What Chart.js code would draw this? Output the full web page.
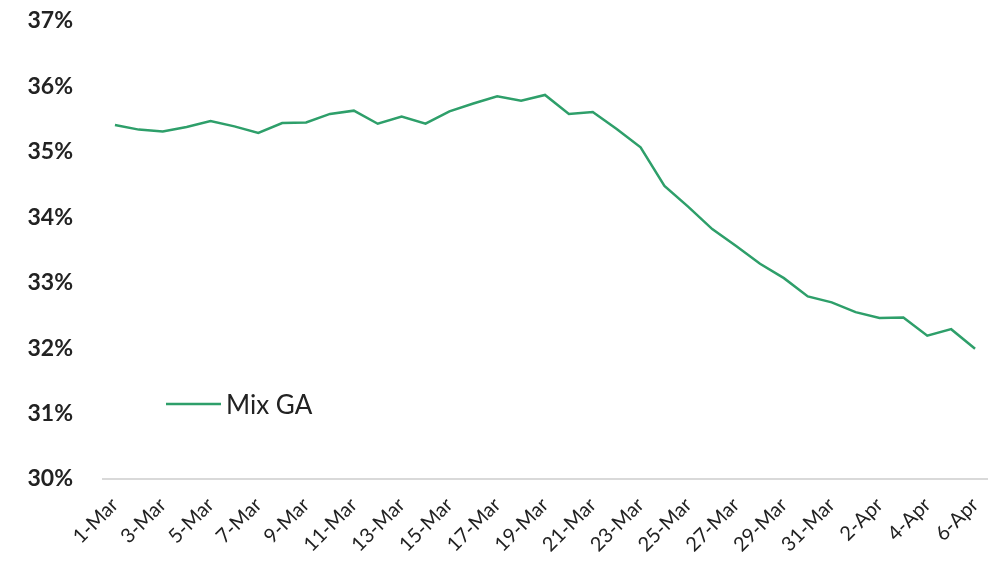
<!DOCTYPE html>
<html>
<head>
<meta charset="utf-8">
<script src="https://cdn.jsdelivr.net/npm/chart.js@4"></script>
<style>
html,body{margin:0;padding:0;background:#fff;}
#wrap{width:997px;height:565px;}
</style>
</head>
<body>
<div id="wrap"><canvas id="c" width="997" height="565"></canvas></div>
<script>
const categories = ["1-Mar","2-Mar","3-Mar","4-Mar","5-Mar","6-Mar","7-Mar","8-Mar","9-Mar","10-Mar","11-Mar","12-Mar","13-Mar","14-Mar","15-Mar","16-Mar","17-Mar","18-Mar","19-Mar","20-Mar","21-Mar","22-Mar","23-Mar","24-Mar","25-Mar","26-Mar","27-Mar","28-Mar","29-Mar","30-Mar","31-Mar","1-Apr","2-Apr","3-Apr","4-Apr","5-Apr","6-Apr"];
const mixGA = [35.41,35.34,35.31,35.38,35.47,35.39,35.29,35.44,35.45,35.58,35.63,35.43,35.54,35.43,35.62,35.74,35.85,35.78,35.87,35.58,35.61,35.35,35.07,34.48,34.16,33.82,33.56,33.29,33.07,32.79,32.70,32.55,32.46,32.47,32.19,32.29,31.99];
const seriesName = "Mix GA";
const yTicks = [30,31,32,33,34,35,36,37];

const lineColor = "#2e9f6a";

const insideLegend = {
  id: "insideLegend",
  afterDraw(chart) {
    const ctx = chart.ctx;
    const ds = chart.data.datasets[0];
    ctx.save();
    ctx.strokeStyle = ds.borderColor;
    ctx.lineWidth = 2.5;
    ctx.beginPath();
    ctx.moveTo(166, 404);
    ctx.lineTo(221, 404);
    ctx.stroke();
    ctx.fillStyle = "#222";
    ctx.font = "26px Lato";
    ctx.textBaseline = "middle";
    ctx.textAlign = "left";
    ctx.fillText(ds.label, 226, 406);
    ctx.restore();
  }
};

new Chart(document.getElementById("c"), {
  type: "line",
  data: {
    labels: categories,
    datasets: [{
      label: seriesName,
      data: mixGA,
      borderColor: lineColor,
      backgroundColor: lineColor,
      borderWidth: 2.5,
      pointRadius: 0,
      tension: 0,
      fill: false
    }]
  },
  options: {
    responsive: false,
    animation: false,
    layout: { padding: { top: 21, right: 10, left: 0, bottom: 0 } },
    plugins: { legend: { display: false }, tooltip: { enabled: false } },
    scales: {
      x: {
        offset: true,
        grid: { display: false, drawTicks: false },
        border: { display: true, color: "#d9d9d9", width: 2 },
        afterFit: s => { s.height = 86; s.paddingLeft = 0; s.paddingRight = 0; },
        ticks: {
          autoSkip: false,
          maxRotation: 45,
          minRotation: 45,
          padding: 14,
          color: "#222",
          font: { family: "Lato", size: 20 },
          callback: function(v, i) { return i % 2 === 0 ? categories[i] : ""; }
        }
      },
      y: {
        min: 30,
        max: 37,
        grid: { display: false, drawTicks: false },
        border: { display: false },
        afterFit: s => { s.width = 103; s.paddingTop = 0; s.paddingBottom = 0; },
        afterBuildTicks: s => { s.ticks = yTicks.map(v => ({ value: v })); },
        ticks: {
          padding: 30,
          color: "#222",
          font: { family: "Lato", size: 23, weight: "bold" },
          callback: v => v + "%"
        }
      }
    }
  },
  plugins: [insideLegend]
});
</script>
</body>
</html>
